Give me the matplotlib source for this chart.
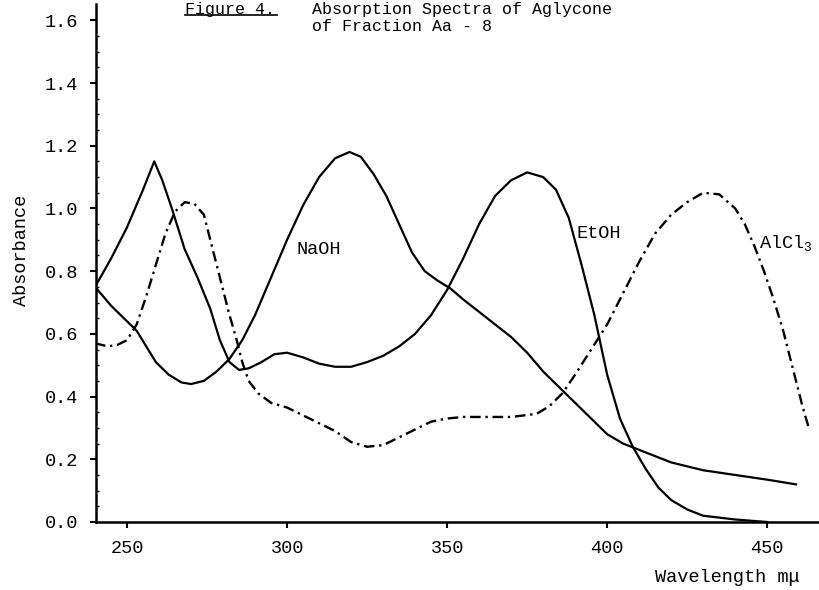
import numpy as np
import matplotlib
matplotlib.use("Agg")
import matplotlib.pyplot as plt
from matplotlib.lines import Line2D

# typewriter look
plt.rcParams["font.family"] = ["Liberation Mono", "DejaVu Sans Mono"]
plt.rcParams["mathtext.fontset"] = "custom"
plt.rcParams["mathtext.rm"] = "Liberation Mono"
plt.rcParams["mathtext.it"] = "Liberation Mono"

# =============================================
# DATA
# =============================================

etoh_nm = [240, 245, 250, 255, 258.5, 261, 264, 268, 272, 276, 279, 282, 285,
           288, 292, 296, 300, 305, 310, 315, 320, 325, 330, 335, 340, 345,
           350, 355, 360, 365, 370, 375, 380, 384, 388, 392, 396, 400, 404,
           408, 412, 416, 420, 425, 430, 440, 450]
etoh_abs = [0.75, 0.84, 0.94, 1.06, 1.15, 1.09, 1.00, 0.87, 0.78, 0.68, 0.58,
            0.51, 0.485, 0.49, 0.51, 0.535, 0.54, 0.525, 0.505, 0.495, 0.495,
            0.51, 0.53, 0.56, 0.60, 0.66, 0.74, 0.84, 0.95, 1.04, 1.09, 1.115,
            1.10, 1.06, 0.97, 0.82, 0.66, 0.47, 0.33, 0.24, 0.17, 0.11, 0.07,
            0.04, 0.02, 0.008, 0.0]

naoh_nm = [240, 245, 250, 253, 256, 259, 263, 267, 270, 274, 278, 282, 286,
           290, 295, 300, 305, 310, 315, 319.5, 323, 327, 331, 335, 339, 343,
           347, 351, 355, 360, 365, 370, 375, 380, 385, 390, 395, 400, 405,
           410, 415, 420, 430, 440, 450, 459]
naoh_abs = [0.75, 0.69, 0.64, 0.61, 0.56, 0.51, 0.47, 0.445, 0.44, 0.45, 0.48,
            0.52, 0.58, 0.66, 0.78, 0.90, 1.01, 1.10, 1.16, 1.18, 1.165, 1.11,
            1.04, 0.95, 0.86, 0.80, 0.77, 0.745, 0.71, 0.67, 0.63, 0.59, 0.54,
            0.48, 0.43, 0.38, 0.33, 0.28, 0.25, 0.23, 0.21, 0.19, 0.165, 0.15,
            0.135, 0.12]

alcl3_nm = [240, 244, 247, 250, 253, 256, 259, 262, 265, 268, 271, 274, 276,
            278, 280, 282, 284, 286, 288, 291, 295, 300, 305, 310, 315, 320,
            325, 330, 335, 340, 345, 350, 355, 360, 370, 378, 382, 386, 390,
            395, 400, 405, 410, 415, 420, 425, 430, 435, 440, 443, 446, 449,
            452, 455, 458, 461, 463]
alcl3_abs = [0.57, 0.56, 0.565, 0.58, 0.63, 0.72, 0.82, 0.92, 0.99, 1.02, 1.015,
             0.98, 0.90, 0.82, 0.74, 0.66, 0.59, 0.51, 0.45, 0.41, 0.38, 0.365,
             0.34, 0.315, 0.29, 0.255, 0.24, 0.245, 0.27, 0.295, 0.32, 0.33,
             0.335, 0.335, 0.335, 0.345, 0.37, 0.41, 0.47, 0.55, 0.63, 0.73,
             0.83, 0.92, 0.98, 1.02, 1.05, 1.045, 1.0, 0.95, 0.88, 0.80, 0.71,
             0.61, 0.49, 0.37, 0.30]

x_ticks = [250, 300, 350, 400, 450]
y_ticks = [0.0, 0.2, 0.4, 0.6, 0.8, 1.0, 1.2, 1.4, 1.6]

# =============================================
# FIGURE
# =============================================

W, H = 820, 590
fig = plt.figure(figsize=(W / 100, H / 100), dpi=100)
ax = fig.add_axes([96 / W, 68 / H, 724 / W, 518 / H])

ax.plot(etoh_nm, etoh_abs, color="black", lw=1.6, solid_joinstyle="round")
ax.plot(naoh_nm, naoh_abs, color="black", lw=1.6, solid_joinstyle="round")
ax.plot(alcl3_nm, alcl3_abs, color="black", lw=1.7,
        dashes=(4.5, 2.0, 1.0, 2.0))

ax.set_xlim(240.3, 466.5)
ax.set_ylim(0, 1.652)
ax.set_xticks(x_ticks)
ax.set_yticks(y_ticks)
ax.set_yticklabels([f"{v:.1f}" for v in y_ticks])
ax.set_yticks(np.arange(0.05, 1.65, 0.05), minor=True)

for s in ["top", "right"]:
    ax.spines[s].set_visible(False)
ax.spines["left"].set_linewidth(1.8)
ax.spines["bottom"].set_linewidth(1.8)

ax.tick_params(axis="both", which="major", direction="out", length=4,
               width=1.5, labelsize=13.4, pad=9)
ax.tick_params(axis="y", which="minor", direction="in", length=2.5, width=1)

# curve labels
ax.text(303, 0.87, "NaOH", fontsize=13.4, va="center", ha="left")
ax.text(390.3, 0.92, "EtOH", fontsize=13.4, va="center", ha="left")
ax.text(447.5, 0.89, r"AlCl$_{3}$", fontsize=13.4, va="center", ha="left")

# axis titles
fig.text(22 / W, 1 - 250 / H, "Absorbance", rotation=90, fontsize=13.4,
         ha="center", va="center")
fig.text(800 / W, 1 - 578 / H, "Wavelength m\u03bc", fontsize=13.4,
         ha="right", va="center")

# title (the scan cuts the top line; keep it fully on the page here)
fig.text(185 / W, 1 - 2 / H, "Figure 4.", fontsize=12, ha="left", va="top")
fig.add_artist(Line2D([185 / W, 277 / W], [1 - 15 / H, 1 - 15 / H],
                      color="black", lw=1.2))
fig.text(312 / W, 1 - 2 / H, "Absorption Spectra of Aglycone", fontsize=12,
         ha="left", va="top")
fig.text(312 / W, 1 - 19 / H, "of Fraction Aa - 8", fontsize=12,
         ha="left", va="top")

fig.savefig("out.png", dpi=100)
